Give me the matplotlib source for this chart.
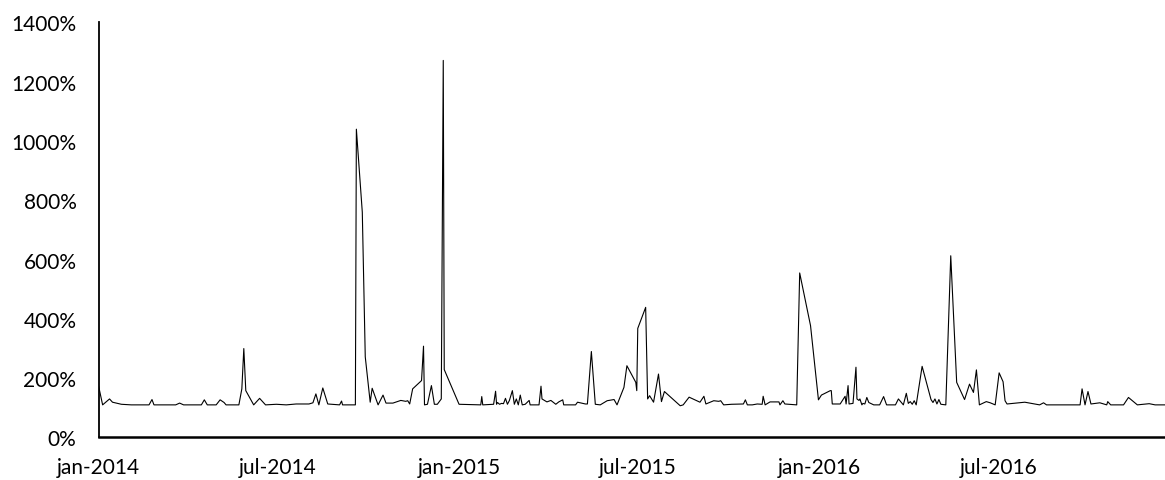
import pandas as pd
import matplotlib
matplotlib.use("Agg")
import matplotlib.pyplot as plt
from matplotlib.ticker import FuncFormatter

# dates and values (percent)
dates = [
    "2014-01-01", "2014-01-05", "2014-01-12", "2014-01-15", "2014-01-24", "2014-02-03",
    "2014-02-21", "2014-02-24", "2014-02-26", "2014-03-20", "2014-03-24", "2014-03-28",
    "2014-04-15", "2014-04-18", "2014-04-21", "2014-04-30", "2014-05-04", "2014-05-08",
    "2014-05-10", "2014-05-23", "2014-05-26", "2014-05-28", "2014-05-30", "2014-06-07",
    "2014-06-13", "2014-06-19", "2014-06-30", "2014-07-10", "2014-07-20", "2014-08-02",
    "2014-08-06", "2014-08-09", "2014-08-12", "2014-08-16", "2014-08-21", "2014-09-02",
    "2014-09-04", "2014-09-05", "2014-09-18", "2014-09-19", "2014-09-25", "2014-09-28",
    "2014-10-03", "2014-10-05", "2014-10-11", "2014-10-16", "2014-10-19", "2014-10-26",
    "2014-11-03", "2014-11-08", "2014-11-10", "2014-11-12", "2014-11-15", "2014-11-24",
    "2014-11-26", "2014-11-27", "2014-11-30", "2014-12-04", "2014-12-07", "2014-12-10",
    "2014-12-14", "2014-12-16", "2014-12-17", "2015-01-01", "2015-01-23", "2015-01-24",
    "2015-01-25", "2015-02-05", "2015-02-07", "2015-02-08", "2015-02-09", "2015-02-11",
    "2015-02-13", "2015-02-15", "2015-02-17", "2015-02-19", "2015-02-21", "2015-02-24",
    "2015-02-26", "2015-02-28", "2015-03-02", "2015-03-04", "2015-03-06", "2015-03-09",
    "2015-03-13", "2015-03-14", "2015-03-23", "2015-03-25", "2015-03-26", "2015-03-31",
    "2015-04-04", "2015-04-09", "2015-04-12", "2015-04-16", "2015-04-17", "2015-04-29",
    "2015-05-01", "2015-05-09", "2015-05-11", "2015-05-15", "2015-05-19", "2015-05-24",
    "2015-05-31", "2015-06-07", "2015-06-10", "2015-06-17", "2015-06-20", "2015-06-29",
    "2015-06-30", "2015-07-01", "2015-07-09", "2015-07-11", "2015-07-13", "2015-07-17",
    "2015-07-22", "2015-07-25", "2015-07-28", "2015-08-13", "2015-08-16", "2015-08-22",
    "2015-09-02", "2015-09-06", "2015-09-08", "2015-09-16", "2015-09-21", "2015-09-23",
    "2015-09-26", "2015-10-04", "2015-10-16", "2015-10-18", "2015-10-20", "2015-10-25",
    "2015-10-30", "2015-11-04", "2015-11-05", "2015-11-07", "2015-11-12", "2015-11-21",
    "2015-11-22", "2015-11-25", "2015-11-27", "2015-12-09", "2015-12-12", "2015-12-23",
    "2015-12-31", "2016-01-03", "2016-01-12", "2016-01-13", "2016-01-14", "2016-01-22",
    "2016-01-27", "2016-01-28", "2016-01-30", "2016-01-31", "2016-02-04", "2016-02-07",
    "2016-02-08", "2016-02-10", "2016-02-11", "2016-02-13", "2016-02-14", "2016-02-16",
    "2016-02-18", "2016-02-20", "2016-02-25", "2016-03-02", "2016-03-06", "2016-03-09",
    "2016-03-18", "2016-03-21", "2016-03-26", "2016-03-29", "2016-03-31", "2016-04-02",
    "2016-04-04", "2016-04-06", "2016-04-08", "2016-04-14", "2016-04-23", "2016-04-25",
    "2016-04-27", "2016-04-29", "2016-05-01", "2016-05-03", "2016-05-08", "2016-05-13",
    "2016-05-19", "2016-05-27", "2016-06-01", "2016-06-05", "2016-06-08", "2016-06-11",
    "2016-06-18", "2016-06-22", "2016-06-27", "2016-07-01", "2016-07-05", "2016-07-07",
    "2016-07-09", "2016-07-27", "2016-08-11", "2016-08-15", "2016-08-18", "2016-09-21",
    "2016-09-23", "2016-09-26", "2016-09-29", "2016-10-02", "2016-10-11", "2016-10-18",
    "2016-10-19", "2016-10-22", "2016-11-04", "2016-11-09", "2016-11-18", "2016-11-30",
    "2016-12-06", "2016-12-16",
]
values = [
    172, 110, 130, 119, 112, 110,
    110, 128, 110, 110, 116, 110,
    110, 127, 110, 110, 127, 118,
    110, 110, 164, 300, 158, 110,
    132, 110, 112, 110, 113, 113,
    117, 147, 110, 167, 113, 110,
    123, 110, 110, 1040, 760, 272,
    119, 166, 110, 143, 116, 116,
    125, 122, 124, 113, 164, 192,
    308, 110, 112, 175, 112, 112,
    130, 1272, 229, 112, 110, 138,
    110, 112, 156, 112, 118, 112,
    115, 114, 132, 112, 125, 158,
    112, 130, 110, 143, 110, 112,
    125, 110, 110, 173, 130, 120,
    125, 112, 120, 127, 110, 110,
    119, 113, 113, 290, 112, 110,
    124, 128, 110, 169, 242, 186,
    158, 368, 439, 130, 141, 119,
    214, 121, 155, 107, 110, 136,
    119, 139, 113, 124, 122, 124,
    110, 112, 113, 127, 110, 110,
    113, 112, 139, 110, 120, 120,
    110, 124, 113, 110, 555, 377,
    127, 143, 158, 158, 113, 113,
    139, 113, 175, 113, 115, 237,
    130, 125, 130, 110, 115, 113,
    135, 118, 110, 110, 138, 110,
    110, 130, 110, 149, 115, 121,
    112, 124, 110, 240, 128, 118,
    130, 113, 128, 112, 110, 613,
    186, 128, 180, 152, 228, 110,
    121, 117, 110, 218, 188, 124,
    113, 119, 110, 117, 110, 110,
    164, 110, 155, 113, 117, 110,
    121, 110, 110, 135, 110, 114,
    110, 110,
]

x = pd.to_datetime(dates)
y_ticks = list(range(0, 1401, 200))
x_ticks = ["2014-01-01", "2014-07-01", "2015-01-01", "2015-07-01", "2016-01-01", "2016-07-01"]
x_labels = ["jan-2014", "jul-2014", "jan-2015", "jul-2015", "jan-2016", "jul-2016"]

plt.rcParams['font.family'] = ['Lato', 'DejaVu Sans']

fig = plt.figure(figsize=(11.65, 4.81), dpi=100)
ax = fig.add_axes([0.0847, 0.0884, 0.9153, 0.8628])

ax.plot(x, values, color='black', linewidth=0.8)

ax.set_xlim(x[0], x[-1])
ax.set_ylim(0, 1400)
ax.set_yticks(y_ticks)
ax.yaxis.set_major_formatter(FuncFormatter(lambda v, p: f"{v:.0f}%"))
ax.set_xticks(pd.to_datetime(x_ticks))
ax.set_xticklabels(x_labels)

for side in ['top', 'right']:
    ax.spines[side].set_visible(False)
ax.spines['left'].set_linewidth(1.3)
ax.spines['bottom'].set_linewidth(1.8)
ax.tick_params(axis='both', length=0, labelsize=15, colors='black')
ax.tick_params(axis='y', pad=16)
ax.tick_params(axis='x', pad=14)

fig.savefig('out.png', dpi=100)
